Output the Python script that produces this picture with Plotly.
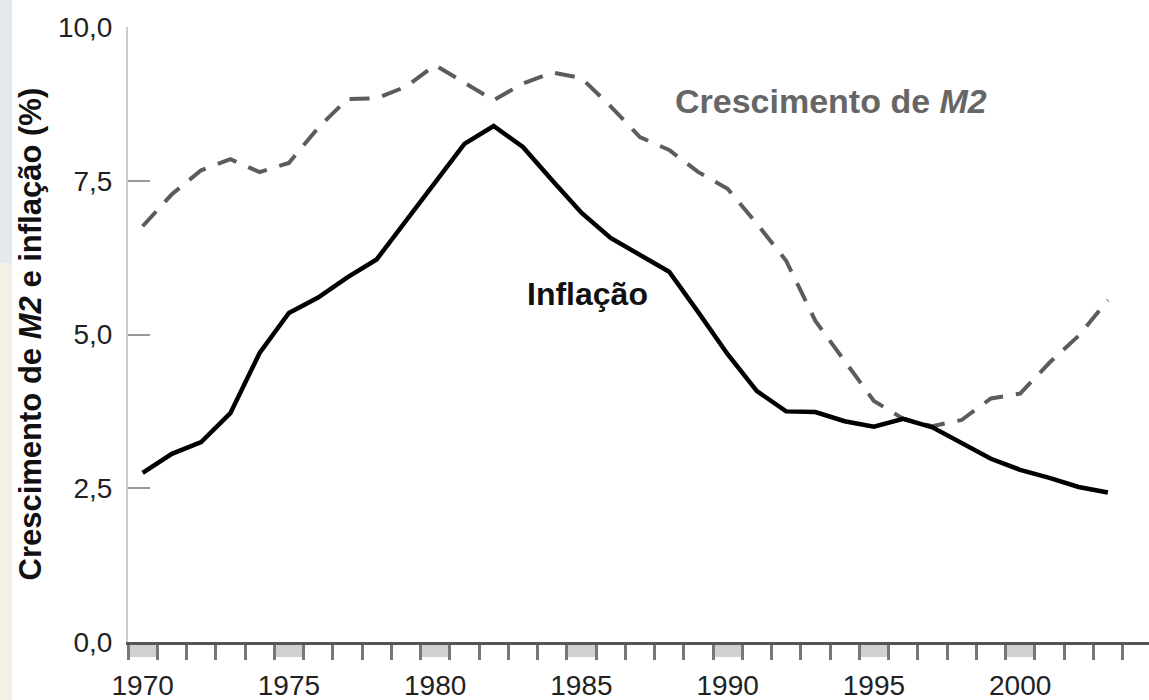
import plotly.graph_objects as go

years = list(range(1970, 2004))
inflacao = [2.75, 3.06, 3.25, 3.72, 4.70, 5.35, 5.60, 5.93, 6.22, 6.84, 7.46,
            8.10, 8.39, 8.05, 7.51, 6.98, 6.57, 6.29, 6.02, 5.36, 4.68, 4.08,
            3.75, 3.74, 3.59, 3.50, 3.63, 3.49, 3.24, 2.98, 2.80, 2.67, 2.52, 2.43]
m2 = [6.76, 7.28, 7.67, 7.85, 7.64, 7.79, 8.36, 8.83, 8.84, 9.03, 9.38,
      9.10, 8.81, 9.08, 9.26, 9.17, 8.71, 8.21, 8.00, 7.64, 7.37, 6.80,
      6.20, 5.22, 4.58, 3.92, 3.63, 3.51, 3.61, 3.96, 4.04, 4.54, 4.98, 5.56]

ytick_vals = [0, 2.5, 5, 7.5, 10]
ytick_text = ["0,0", "2,5", "5,0", "7,5", "10,0"]
xtick_vals = [1970, 1975, 1980, 1985, 1990, 1995, 2000]
xtick_text = ["1970", "1975", "1980", "1985", "1990", "1995", "2000"]

FONT = "Liberation Sans, Arial, Helvetica, sans-serif"

fig = go.Figure()
fig.add_trace(go.Scatter(x=years, y=m2, mode="lines",
                         line=dict(color="#5c5c5c", width=4, dash="20px,13px"),
                         showlegend=False, hoverinfo="skip"))
fig.add_trace(go.Scatter(x=years, y=inflacao, mode="lines",
                         line=dict(color="#000000", width=4.5),
                         showlegend=False, hoverinfo="skip"))

shapes = []
# left strip artifact
shapes.append(dict(type="rect", xref="paper", yref="paper",
                   x0=-128/1021, x1=-116/1021, y0=(642-263)/615, y1=642/615,
                   fillcolor="#e4e9ee", line=dict(width=0), layer="below"))
shapes.append(dict(type="rect", xref="paper", yref="paper",
                   x0=-128/1021, x1=-116/1021, y0=-58/615, y1=(642-263)/615,
                   fillcolor="#f4f0e7", line=dict(width=0), layer="below"))
# shaded boxes under every fifth year
for yv in xtick_vals:
    shapes.append(dict(type="rect", xref="x", yref="paper",
                       x0=yv - 0.5, x1=yv + 0.5, y0=-15/615, y1=0,
                       fillcolor="#d0d0d0", line=dict(width=0), layer="below"))

annotations = [
    dict(x=1988.13, y=8.80, xref="x", yref="y", xanchor="left", yanchor="middle",
         text="<b>Crescimento de <i>M2</i></b>", showarrow=False,
         font=dict(family=FONT, size=34, color="#666666")),
    dict(x=1983.07, y=5.66, xref="x", yref="y", xanchor="left", yanchor="middle",
         text="<b>Inflação</b>", showarrow=False,
         font=dict(family=FONT, size=32, color="#111111")),
    dict(x=(30-128)/1021, y=0.5, xref="paper", yref="paper", xanchor="center",
         yanchor="middle", textangle=-90,
         text="<b>Crescimento de <i>M2</i> e inflação (%)</b>", showarrow=False,
         font=dict(family=FONT, size=31, color="#111111")),
]

fig.update_layout(
    width=1149, height=700,
    margin=dict(l=128, r=0, t=27, b=58, autoexpand=False),
    paper_bgcolor="white", plot_bgcolor="white",
    shapes=shapes, annotations=annotations,
    xaxis=dict(range=[1969.5, 1969.5 + 1021/29.25], showgrid=False, zeroline=False,
               automargin=False,
               showline=True, linecolor="#555555", linewidth=2.5,
               tickmode="array", tickvals=xtick_vals, ticktext=xtick_text,
               ticks="", ticklabelstandoff=17,
               tickfont=dict(family=FONT, size=28, color="#222222"),
               minor=dict(tick0=1969.5, dtick=1, ticks="outside", ticklen=15,
                          tickwidth=3, tickcolor="#777777", showgrid=False)),
    yaxis=dict(range=[0, 10], showgrid=False, zeroline=False,
               automargin=False,
               showline=True, linecolor="#cccccc", linewidth=2,
               tickmode="array", tickvals=ytick_vals, ticktext=ytick_text,
               ticks="inside", ticklen=22, tickwidth=2, tickcolor="#999999",
               ticklabelstandoff=8,
               tickfont=dict(family=FONT, size=28, color="#222222")),
)

fig.write_html("out.html", config={"displayModeBar": False},
               post_script="document.body.style.margin='0';document.body.style.overflow='hidden';")
